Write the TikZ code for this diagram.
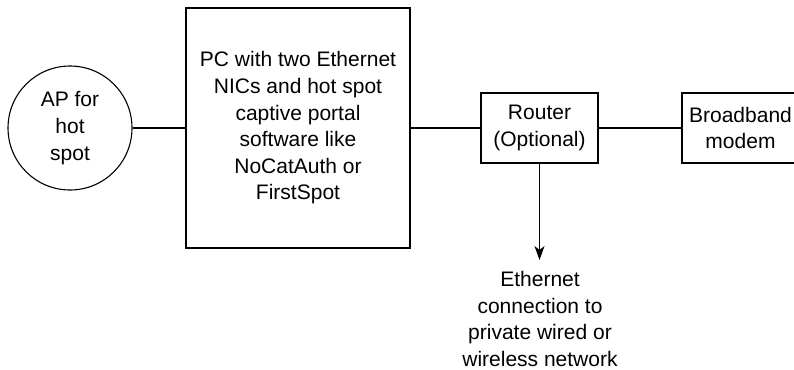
\documentclass[tikz,border=0pt]{standalone}
\usepackage{fontspec}
\setmainfont{Liberation Sans}
\usetikzlibrary{arrows.meta}
\tikzset{
  lbl/.style={font=\fontsize{21pt}{26.6pt}\selectfont, align=center, inner sep=0pt},
  boxed/.style={draw, line width=1.1pt, rectangle, lbl},
  conn/.style={line width=1.1pt},
}
\begin{document}
\begin{tikzpicture}[x=1pt,y=-1pt]
\useasboundingbox (0,0) rectangle (794,369);
\clip (0,0) rectangle (794,369);
\node[draw, circle, line width=1.1pt, minimum size=124pt, lbl] (ap) at (70,128) {AP for\\hot\\spot};
\node[boxed, minimum width=224pt, minimum height=240pt] (pc) at (298,128) {PC with two Ethernet\\NICs and hot spot\\captive portal\\software like\\NoCatAuth or\\FirstSpot};
\node[boxed, minimum width=117pt, minimum height=70pt] (router) at (539.5,128) {Router\\(Optional)};
\node[boxed, minimum width=117pt, minimum height=70pt] (modem) at (740.5,128) {Broadband\\modem};
\node[lbl, anchor=north] (eth) at (540,271) {Ethernet\\connection to\\private wired or\\wireless network};
\coordinate (tip) at (539.5,260);
\draw[conn] (ap) -- (pc);
\draw[conn] (pc) -- (router);
\draw[conn] (router) -- (modem);
\draw[conn, -{Stealth[length=14pt, width=10pt, inset=4pt]}] (router.south) -- (tip);
\end{tikzpicture}
\end{document}
